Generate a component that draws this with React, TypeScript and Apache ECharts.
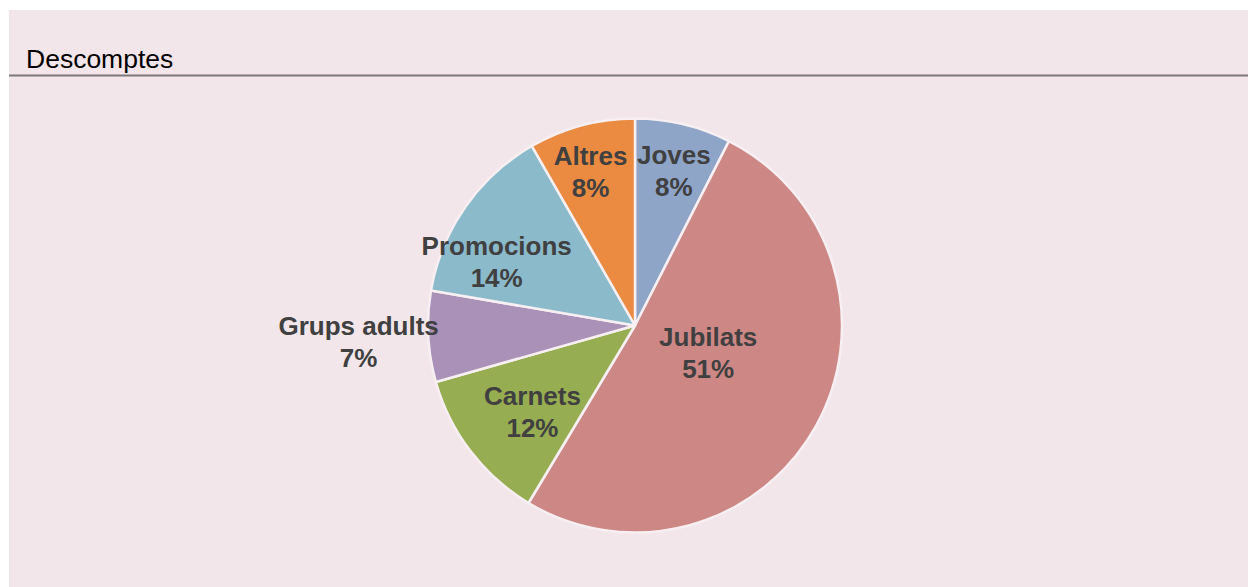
import React, { useEffect, useRef } from "react";
import * as echarts from "echarts";

const categories = ["Joves", "Jubilats", "Carnets", "Grups adults", "Promocions", "Altres"];
const values = [7.5, 51.1, 12.0, 7.1, 14.0, 8.3];
const colors = ["#8ea5c8", "#cd8886", "#97ad52", "#a991b7", "#8bbacb", "#eb8b41"];
const titleText = "Descomptes";

// label offsets relative to ECharts' "inside" position
const labelShift: [number, number][] = [
  [14, -51],
  [-20, -24],
  [-18, 22],
  [-170, 11],
  [-51, -3],
  [-17, -51],
];

export default function App() {
  const ref = useRef<HTMLDivElement>(null);
  useEffect(() => {
    if (!ref.current) return;
    const chart = echarts.init(ref.current, undefined, { renderer: "svg" });
    const w = ref.current.clientWidth;
    chart.setOption({
      animation: false,
      backgroundColor: "#f2e6ea",
      graphic: [
        {
          type: "text",
          left: 17,
          top: 35,
          style: {
            text: titleText,
            fontSize: 26.5,
            fontFamily: "Liberation Sans, Arial, sans-serif",
            fill: "#000000",
          },
        },
        {
          type: "line",
          shape: { x1: 0, y1: 65.5, x2: w, y2: 65.5 },
          style: { stroke: "#7d7777", lineWidth: 2 },
        },
      ],
      series: [
        {
          type: "pie",
          center: [626, 315.5],
          radius: 207,
          startAngle: 90,
          clockwise: true,
          percentPrecision: 0,
          avoidLabelOverlap: false,
          itemStyle: { borderColor: "#f7eff2", borderWidth: 2.5 },
          label: {
            show: true,
            position: "inside",
            formatter: "{b}\n{d}%",
            fontSize: 26,
            fontWeight: "bold",
            lineHeight: 32,
            color: "#404040",
            fontFamily: "Liberation Sans, Arial, sans-serif",
          },
          labelLine: { show: false },
          labelLayout: (params: any) => {
            const s = labelShift[params.dataIndex] || [0, 0];
            return { dx: s[0], dy: s[1] };
          },
          emphasis: { disabled: true },
          data: categories.map((name, i) => ({
            name,
            value: values[i],
            itemStyle: { color: colors[i] },
          })),
        },
      ],
    });
    return () => chart.dispose();
  }, []);
  return (
    <div
      ref={ref}
      style={{ position: "fixed", left: 9, top: 10, right: 0, bottom: 0 }}
    />
  );
}
